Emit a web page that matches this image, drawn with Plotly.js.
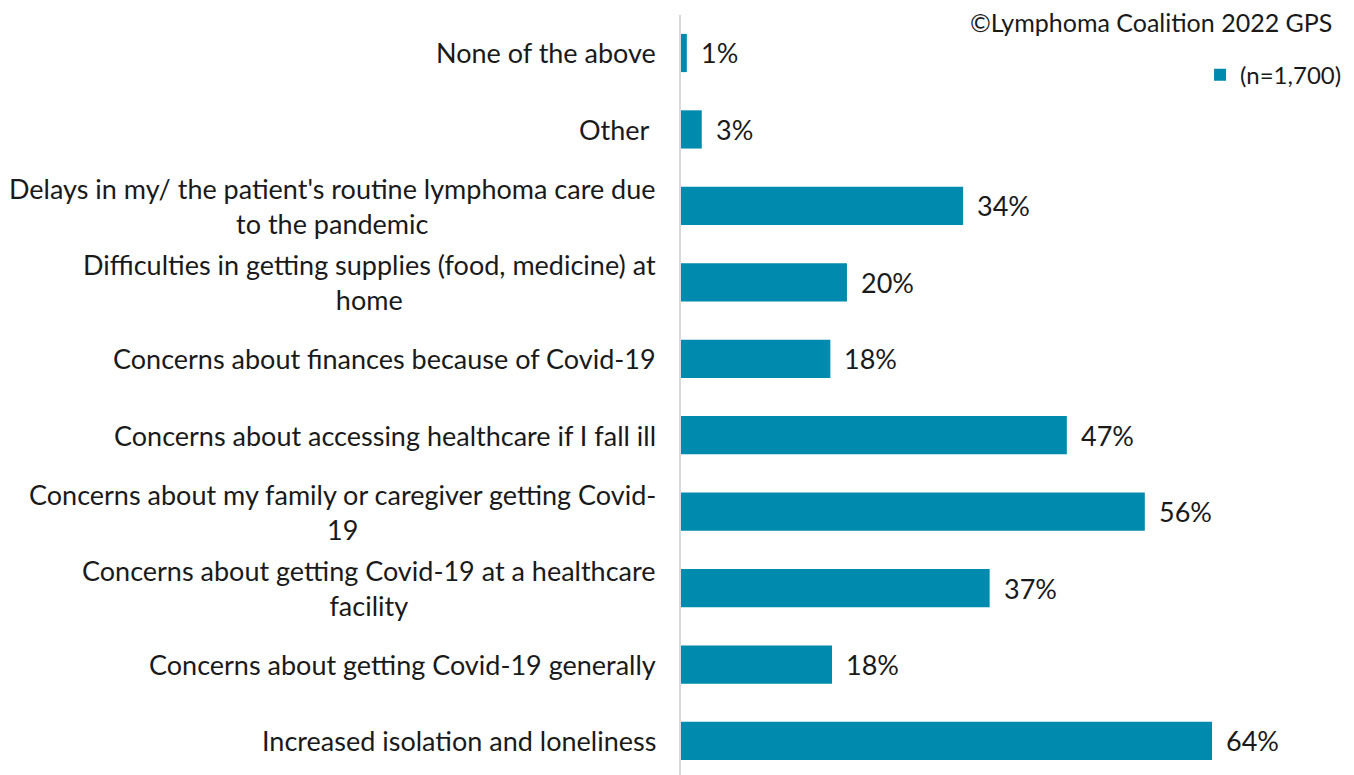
<!DOCTYPE html>
<html>
<head>
<meta charset="utf-8">
<script src="https://cdn.plot.ly/plotly-3.0.1.min.js"></script>
<style>html,body{margin:0;padding:0;background:#fff;}#chart{width:1354px;height:775px;}</style>
</head>
<body>
<div id="chart"></div>
<script>
// Categories listed bottom to top
const categories = [
  "Increased isolation and loneliness",
  "Concerns about getting Covid-19 generally",
  "Concerns about getting Covid-19 at a healthcare<br>facility",
  "Concerns about my family or caregiver getting Covid-<br>19",
  "Concerns about accessing healthcare if I fall ill",
  "Concerns about finances because of Covid-19",
  "Difficulties in getting supplies (food, medicine) at<br>home",
  "Delays in my/ the patient's routine lymphoma care due<br>to the pandemic",
  "Other ",
  "None of the above"
];
const values = [64, 18.2, 37.2, 55.9, 46.5, 18, 20, 34, 2.5, 0.7];
const valueLabels = ["64%", "18%", "37%", "56%", "47%", "18%", "20%", "34%", "3%", "1%"];
const seriesName = "(n=1,700)";
const sourceNote = "©Lymphoma Coalition 2022 GPS";

const FONT = "Lato, sans-serif";
const barColor = "#008AAD";

const annotations = [];
categories.forEach((c, i) => {
  annotations.push({
    x: 0, xref: "paper", y: c, yref: "y",
    text: c, showarrow: false, xanchor: "right", align: "center",
    xshift: -23, font: {family: FONT, size: 27, color: "#1a1a1a"}
  });
  annotations.push({
    x: values[i], xref: "x", y: c, yref: "y",
    text: valueLabels[i], showarrow: false, xanchor: "left",
    xshift: 12, font: {family: FONT, size: 27, color: "#1a1a1a"}
  });
});
annotations.push({
  x: 1, xref: "paper", y: 1 + (15 - 22) / 760, yref: "paper", yanchor: "middle",
  text: sourceNote, showarrow: false, xanchor: "right",
  font: {family: FONT, size: 25, color: "#1a1a1a"}
});

const trace = {
  type: "bar", orientation: "h",
  x: values, y: categories, name: seriesName,
  marker: {color: barColor, line: {width: 0}},
  hoverinfo: "none", showlegend: true
};

const layout = {
  width: 1354, height: 775,
  margin: {l: 681, r: 20, t: 15, b: 0},
  paper_bgcolor: "#fff", plot_bgcolor: "#fff",
  bargap: 0.5,
  font: {family: FONT, size: 24, color: "#1a1a1a"},
  xaxis: {range: [0, 78.7], visible: false, fixedrange: true},
  yaxis: {type: "category", range: [-0.445, 9.497], showticklabels: false,
          showline: true, linecolor: "#d9d9d9", linewidth: 2, ticks: "",
          showgrid: false, zeroline: false, fixedrange: true},
  showlegend: true,
  legend: {x: 1.02, xanchor: "right", y: 0.921, yanchor: "middle",
           font: {family: FONT, size: 24, color: "#1a1a1a"},
           itemwidth: 30, bgcolor: "rgba(0,0,0,0)"},
  annotations: annotations
};

Plotly.newPlot("chart", [trace], layout, {displayModeBar: false, staticPlot: true});
</script>
</body>
</html>
